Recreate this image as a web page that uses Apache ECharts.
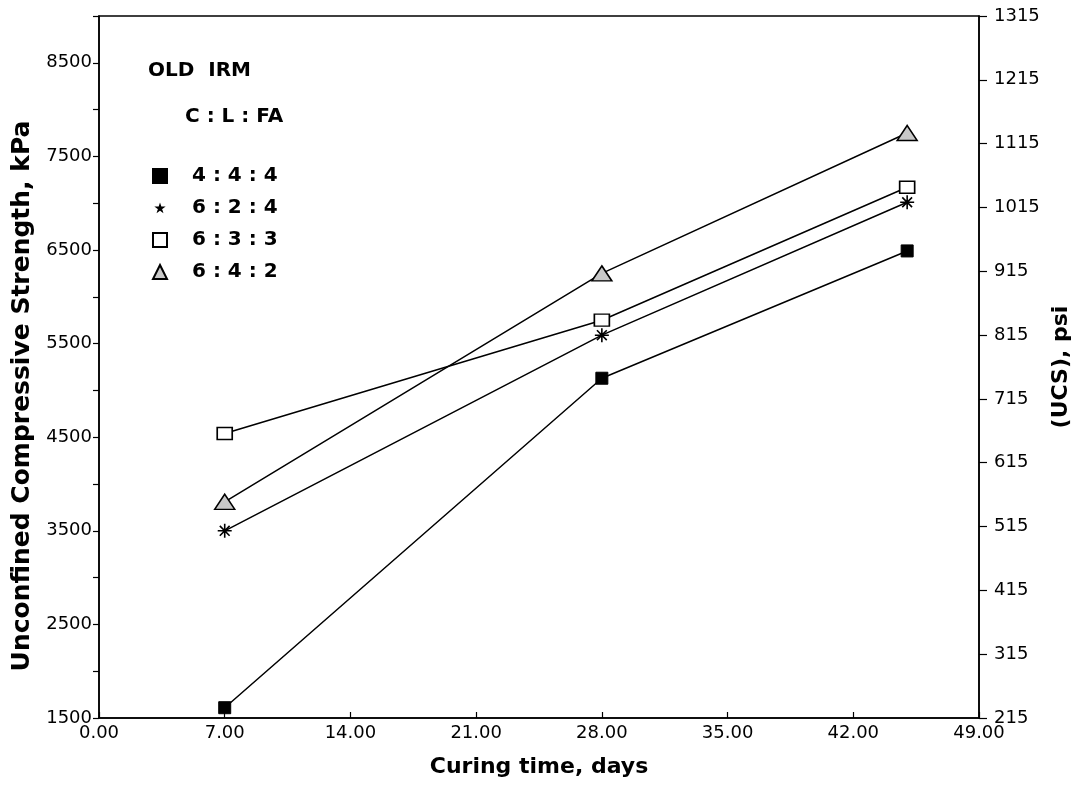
<!DOCTYPE html>
<html>
<head>
<meta charset="utf-8">
<script src="https://cdn.jsdelivr.net/npm/echarts@6/dist/echarts.min.js"></script>
<style>
  html, body { margin: 0; padding: 0; background: #fff; }
  #container { width: 1078px; height: 786px; }
</style>
</head>
<body>
<div id="container"></div>
<script>
var dom = document.getElementById("container");
var myChart = echarts.init(dom);

// curing time, days
var days = [7, 28, 45];

// UCS in kPa
var mix444 = [1610, 5130, 6490];
var mix624 = [3500, 5590, 7010];
var mix633 = [4540, 5750, 7170];
var mix642 = [3810, 6250, 7750];

var seriesNames = ['4 : 4 : 4', '6 : 2 : 4', '6 : 3 : 3', '6 : 4 : 2'];

var font = 'DejaVu Sans, Liberation Sans, Arial, sans-serif';

var asterisk = 'path://M0,5 L10,5 M1.5,1.5 L8.5,8.5 M8.5,1.5 L1.5,8.5 M5,0 L5,10';
// small star; the bare moveTo points widen the box so the star stays small
var starIcon = 'path://M0,0 M24,24 ' +
    'M12,8 L13.1,11.3 L16.5,11.3 L13.8,13.3 L14.8,16.6 L12,14.6 L9.2,16.6 L10.2,13.3 L7.5,11.3 L10.9,11.3 Z';

function pairs(vals) {
    return days.map(function (d, i) { return [d, vals[i]]; });
}

var lineStyle = { color: '#000', width: 1.5 };

var option = {
    animation: false,
    backgroundColor: '#fff',
    textStyle: { fontFamily: font, color: '#000' },
    grid: {
        left: 99,
        right: 99,
        top: 16,
        bottom: 68,
        containLabel: false,
        outerBoundsMode: 'none',
        show: true,
        borderColor: '#000',
        borderWidth: 1.5,
        backgroundColor: 'transparent'
    },
    xAxis: {
        type: 'value',
        min: 0,
        max: 49,
        interval: 7,
        name: 'Curing time, days',
        nameLocation: 'middle',
        nameGap: 38,
        nameTextStyle: { fontSize: 22, fontWeight: 'bold', color: '#000', fontFamily: font },
        axisLine: { lineStyle: { color: '#000', width: 1.5 } },
        axisTick: { inside: true, length: 6, lineStyle: { color: '#000', width: 1.2 } },
        axisLabel: {
            color: '#000',
            fontSize: 18,
            margin: 6,
            fontFamily: font,
            formatter: function (v) { return v.toFixed(2); }
        },
        splitLine: { show: false }
    },
    yAxis: [{
        type: 'value',
        position: 'left',
        min: 1500,
        max: 9000,
        interval: 500,
        name: 'Unconfined Compressive Strength, kPa',
        nameLocation: 'middle',
        nameRotate: 90,
        nameGap: 61,
        nameTextStyle: {
            fontSize: 25,
            fontWeight: 'bold',
            color: '#000',
            fontFamily: font,
            padding: [0, 58, 0, 0]
        },
        axisLine: { show: true, lineStyle: { color: '#000', width: 1.5 } },
        axisTick: { show: true, length: 6, lineStyle: { color: '#000', width: 1.2 } },
        axisLabel: {
            color: '#000',
            fontSize: 18,
            margin: 7,
            fontFamily: font,
            formatter: function (v) {
                return ((v - 1500) % 1000 === 0 && v < 9000) ? String(v) : '';
            }
        },
        splitLine: { show: false }
    }, {
        type: 'value',
        position: 'right',
        min: 215,
        max: 1315,
        interval: 100,
        name: '(UCS), psi',
        nameLocation: 'middle',
        nameRotate: 90,
        nameGap: 66,
        nameTextStyle: { fontSize: 22, fontWeight: 'bold', color: '#000', fontFamily: font },
        axisLine: { show: true, lineStyle: { color: '#000', width: 1.5 } },
        axisTick: { show: true, length: 8, lineStyle: { color: '#000', width: 1.2 } },
        axisLabel: {
            color: '#000',
            fontSize: 18,
            margin: 15,
            fontFamily: font,
            formatter: function (v) { return String(v); }
        },
        splitLine: { show: false }
    }],
    legend: {
        orient: 'vertical',
        left: 147,
        top: 160,
        itemWidth: 14,
        itemHeight: 14,
        itemGap: 10,
        textStyle: {
            fontSize: 20,
            fontWeight: 'bold',
            color: '#000',
            fontFamily: font,
            lineHeight: 22,
            padding: [0, 0, 0, 20]
        },
        data: [
            { name: seriesNames[0], icon: 'rect' },
            { name: seriesNames[1], icon: starIcon },
            { name: seriesNames[2], icon: 'rect' },
            { name: seriesNames[3], icon: 'triangle' }
        ]
    },
    graphic: [{
        type: 'text',
        left: 148,
        top: 61,
        style: { text: 'OLD  IRM', font: 'bold 20px ' + font, fill: '#000' }
    }, {
        type: 'text',
        left: 185,
        top: 107,
        style: { text: 'C : L : FA', font: 'bold 20px ' + font, fill: '#000' }
    }],
    series: [{
        name: seriesNames[0],
        type: 'line',
        data: pairs(mix444),
        symbol: 'rect',
        symbolSize: 12,
        itemStyle: { color: '#000', borderColor: '#000', borderWidth: 1 },
        lineStyle: lineStyle
    }, {
        name: seriesNames[1],
        type: 'line',
        data: pairs(mix624),
        symbol: asterisk,
        symbolSize: 14,
        itemStyle: { color: '#000', borderColor: '#000', borderWidth: 1.6 },
        lineStyle: lineStyle
    }, {
        name: seriesNames[2],
        type: 'line',
        data: pairs(mix633),
        symbol: 'rect',
        symbolSize: [15, 12],
        itemStyle: { color: '#fff', borderColor: '#000', borderWidth: 1.5 },
        lineStyle: lineStyle
    }, {
        name: seriesNames[3],
        type: 'line',
        data: pairs(mix642),
        symbol: 'triangle',
        symbolSize: [20, 15],
        itemStyle: { color: '#c8c8c8', borderColor: '#000', borderWidth: 1.5 },
        lineStyle: lineStyle
    }]
};

myChart.setOption(option);
</script>
</body>
</html>
